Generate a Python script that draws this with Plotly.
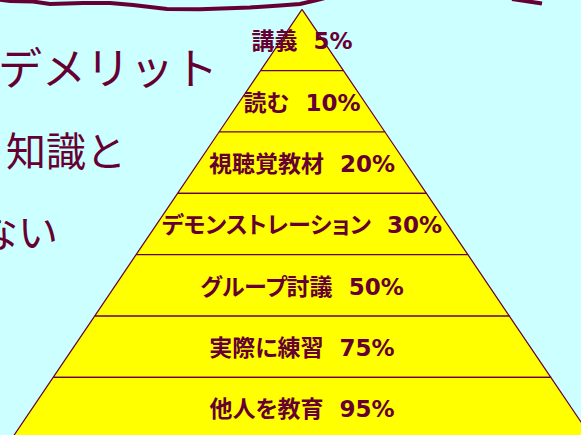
import plotly.graph_objects as go

# ---- data ----
methods = ["講義", "読む", "視聴覚教材", "デモンストレーション", "グループ討議", "実際に練習", "他人を教育"]
rates = [5, 10, 20, 30, 50, 75, 95]
side_texts = ["デメリット", "知識と", "ない"]

# ---- style / layout constants ----
W, H = 581, 435
BG = "#ccffff"
MAROON = "#660033"
YELLOW = "#ffff00"
APEX_X, APEX_Y = 302, 9.3
LAYER_H = 61.35
SLOPE = 0.676

fig = go.Figure()

n = len(methods)
for i in range(n):
    y0 = APEX_Y + i * LAYER_H
    y1 = y0 + LAYER_H
    hw0 = SLOPE * (y0 - APEX_Y)
    hw1 = SLOPE * (y1 - APEX_Y)
    fig.add_trace(go.Scatter(
        x=[APEX_X - hw0, APEX_X + hw0, APEX_X + hw1, APEX_X - hw1, APEX_X - hw0],
        y=[y0, y0, y1, y1, y0],
        mode="lines", fill="toself", fillcolor=YELLOW,
        line=dict(color=MAROON, width=1.2),
        hoverinfo="skip", showlegend=False,
    ))

labels = [f"{m}  {r}%" for m, r in zip(methods, rates)]
fig.add_trace(go.Scatter(
    x=[APEX_X] * n,
    y=[APEX_Y + (i + 0.5) * LAYER_H + 3.5 for i in range(n)],
    mode="text", text=labels, textposition="middle center",
    textfont=dict(family="DejaVu Sans, Noto Sans CJK JP", size=23, color=MAROON, weight="bold"),
    hoverinfo="skip", showlegend=False,
))

# left-hand slide text (partially cut off)
fig.add_annotation(x=0, y=66, xref="x", yref="y", text=side_texts[0], showarrow=False,
                   xanchor="left", yanchor="middle", xshift=-4,
                   font=dict(family="Noto Sans CJK JP", size=44, color=MAROON))
fig.add_annotation(x=4, y=149, xref="x", yref="y", text=side_texts[1], showarrow=False,
                   xanchor="left", yanchor="middle",
                   font=dict(family="Noto Sans CJK JP", size=40, color=MAROON))
fig.add_annotation(x=60, y=230, xref="x", yref="y", text=side_texts[2], showarrow=False,
                   xanchor="right", yanchor="middle",
                   font=dict(family="Noto Sans CJK JP", size=40, color=MAROON))

# decorative wavy line at the top
wave = [(-2, -0.5), (10, 1), (33, 1.5), (50, 4), (83, 3), (110, 3), (133, 5), (167, 9),
        (200, 9.3), (250, 7.5), (280, 5.5), (300, 4), (317, 0), (325, -2)]
path = "M " + " L ".join(f"{x},{y}" for x, y in wave)
fig.add_shape(type="path", path=path, xref="x", yref="y",
              line=dict(color=MAROON, width=4), layer="above")
fig.add_shape(type="path", path="M 512,-1 L 542,3.5", xref="x", yref="y",
              line=dict(color=MAROON, width=4), layer="above")

fig.update_xaxes(range=[0, W], visible=False, fixedrange=True)
fig.update_yaxes(range=[H, 0], visible=False, fixedrange=True)
fig.update_layout(
    width=W, height=H,
    margin=dict(l=0, r=0, t=0, b=0),
    paper_bgcolor=BG, plot_bgcolor=BG,
    showlegend=False,
)

post = (
    "document.body.style.margin='0';"
    "document.body.style.background='" + BG + "';"
    "document.querySelectorAll('.textpoint text').forEach(function(t){"
    "t.style.fontFeatureSettings='\"palt\"';});"
)
fig.write_html("out.html", config={"displayModeBar": False}, post_script=post)
